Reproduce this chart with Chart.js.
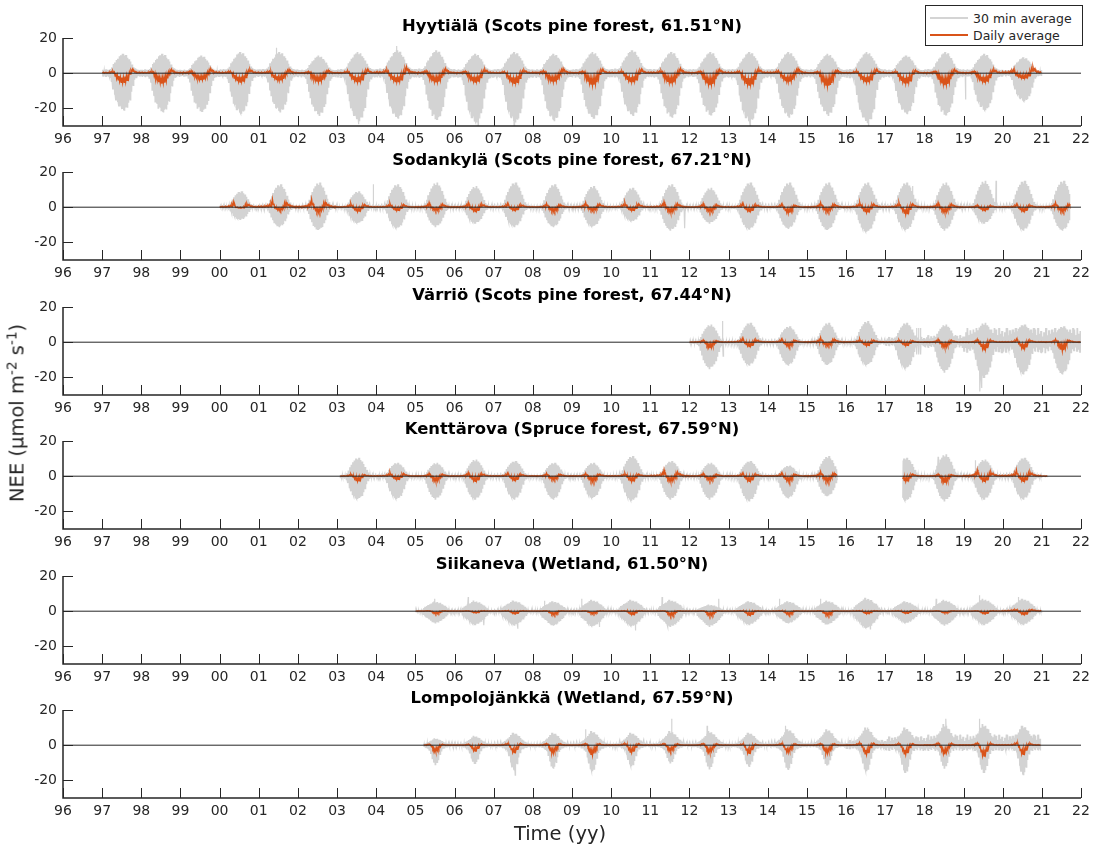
<!DOCTYPE html>
<html>
<head>
<meta charset="utf-8">
<title>NEE at six Finnish flux sites</title>
<script src="https://cdn.jsdelivr.net/npm/chart.js@4.4.1/dist/chart.umd.min.js"></script>
<style>
  html, body { margin: 0; padding: 0; background: #fff; }
  #fig { position: relative; width: 1101px; height: 846px; overflow: hidden; background: #fff;
         font-family: "DejaVu Sans", sans-serif; color: #262626; }
  #fig canvas { position: absolute; left: 0; }
  .anchor { position: absolute; width: 0; height: 0; }
  .anchor > div { position: absolute; left: 0; top: 0; white-space: nowrap; font-size: 19.5px; }
  #ylab > div { transform: translate(-50%, -50%) rotate(-90deg); }
  #xlab > div { transform: translate(-50%, -50%); }
  sup { font-size: 0.7em; vertical-align: 0.5em; line-height: 0; }
  #legend { position: absolute; left: 925px; top: 5px; width: 158px; height: 41px; box-sizing: border-box;
            border: 1px solid #262626; background: #fff; font-size: 12.5px; }
  #legend .row { position: absolute; left: 4px; height: 16px; display: flex; align-items: center; }
  #legend .sw { width: 38px; height: 0; margin-right: 5px; border-top: 2px solid; }
</style>
</head>
<body>
<div id="fig">
  <canvas id="panel0" width="1101" height="150" style="top:0px"></canvas>
  <canvas id="panel1" width="1101" height="150" style="top:134px"></canvas>
  <canvas id="panel2" width="1101" height="150" style="top:269px"></canvas>
  <canvas id="panel3" width="1101" height="150" style="top:403px"></canvas>
  <canvas id="panel4" width="1101" height="150" style="top:538px"></canvas>
  <canvas id="panel5" width="1101" height="150" style="top:672px"></canvas>
  <div id="ylab" class="anchor" style="left:17px;top:413px"><div>NEE (µmol m<sup>-2</sup> s<sup>-1</sup>)</div></div>
  <div id="xlab" class="anchor" style="left:560px;top:833px"><div>Time (yy)</div></div>
  <div id="legend">
    <div class="row" style="top:4px"><span class="sw" style="border-color:#d4d4d4"></span>30 min average</div>
    <div class="row" style="top:21px"><span class="sw" style="border-color:#d95319"></span>Daily average</div>
  </div>
</div>
<script>
// ---- axes ----
const X_MIN = 1996, X_MAX = 2022;
const X_TICK_LABELS = ['96','97','98','99','00','01','02','03','04','05','06','07','08','09',
                       '10','11','12','13','14','15','16','17','18','19','20','21','22'];
const Y_MIN = -30, Y_MAX = 20;
const Y_TICKS = [-20, 0, 20];

// ---- seasonal envelopes: 26 two-week bins per year, fraction of that year's extreme ----
const BINS = 26;
// southern pine forest
const SF_GRAY_MIN = [0.08,0.06,0.09,0.07,0.08,0.13,0.24,0.44,0.58,0.74,0.78,0.9,0.88,0.97,1.00,0.93,0.92,0.80,0.72,0.50,0.33,0.18,0.12,0.09,0.07,0.08];
const SF_GRAY_MAX = [0.18,0.16,0.20,0.17,0.18,0.22,0.30,0.47,0.55,0.68,0.74,0.88,0.93,1.00,0.90,0.94,0.80,0.72,0.60,0.45,0.32,0.25,0.20,0.18,0.16,0.18];
const SF_DAY_UP   = [0.20,0.15,0.20,0.15,0.20,0.30,0.40,0.50,0.30,0.00,-0.20,-0.30,-0.40,-0.45,-0.40,-0.35,-0.25,-0.10,0.30,0.70,0.90,0.60,0.40,0.25,0.20,0.20];
const SF_DAY_LOW  = [0.05,0.00,0.05,0.05,0.05,0.10,0.15,0.10,-0.30,-0.55,-0.70,-0.85,-0.95,-1.00,-0.95,-0.90,-0.75,-0.50,-0.10,0.30,0.40,0.25,0.10,0.10,0.05,0.05];
// northern forests
const NF_GRAY_MIN = [0.05,0.04,0.06,0.05,0.06,0.08,0.15,0.30,0.50,0.66,0.80,0.88,0.95,1.00,0.93,0.90,0.84,0.70,0.55,0.35,0.20,0.12,0.08,0.06,0.05,0.05];
const NF_GRAY_MAX = [0.06,0.05,0.07,0.06,0.07,0.09,0.16,0.30,0.48,0.62,0.76,0.85,0.96,0.90,1.00,0.88,0.80,0.66,0.50,0.34,0.20,0.12,0.08,0.06,0.06,0.05];
const NF_DAY_UP   = [0.10,0.10,0.10,0.10,0.15,0.15,0.20,0.30,0.50,0.90,0.40,0.00,-0.20,-0.30,-0.25,-0.20,0.10,0.50,0.60,0.40,0.30,0.20,0.15,0.10,0.10,0.10];
const NF_DAY_LOW  = [0.00,0.00,0.00,0.00,0.05,0.05,0.05,0.10,0.20,0.30,-0.20,-0.55,-0.85,-1.00,-0.90,-0.70,-0.30,0.10,0.25,0.20,0.10,0.05,0.05,0.00,0.00,0.00];
// southern fen
const SW_GRAY_MIN = [0.06,0.05,0.08,0.08,0.12,0.28,0.42,0.50,0.58,0.66,0.80,0.88,0.95,1.00,0.93,0.90,0.84,0.74,0.66,0.55,0.44,0.30,0.18,0.10,0.06,0.07];
const SW_GRAY_MAX = [0.08,0.06,0.10,0.10,0.16,0.32,0.45,0.52,0.62,0.70,0.76,0.88,1.00,0.86,0.92,0.80,0.84,0.70,0.60,0.55,0.42,0.28,0.16,0.10,0.08,0.09];
const SW_DAY_UP   = [0.20,0.20,0.20,0.20,0.30,0.30,0.40,0.50,0.60,0.50,0.30,0.00,-0.30,-0.40,-0.35,-0.30,-0.10,0.30,0.50,0.60,0.50,0.40,0.30,0.20,0.20,0.20];
const SW_DAY_LOW  = [0.00,0.00,0.00,0.00,0.10,0.10,0.10,0.20,0.20,0.10,-0.20,-0.50,-0.85,-1.00,-0.95,-0.80,-0.50,-0.10,0.20,0.20,0.20,0.10,0.10,0.00,0.00,0.00];
// northern fen
const NW_GRAY_MIN = [0.06,0.05,0.08,0.06,0.07,0.08,0.10,0.13,0.18,0.25,0.45,0.70,0.90,1.00,0.92,0.75,0.50,0.30,0.18,0.14,0.11,0.09,0.07,0.06,0.05,0.07];
const NW_GRAY_MAX = [0.12,0.10,0.14,0.12,0.15,0.20,0.28,0.35,0.45,0.55,0.66,0.82,1.00,0.88,0.92,0.78,0.75,0.58,0.45,0.38,0.28,0.22,0.16,0.12,0.10,0.12];
const NW_DAY_UP   = [0.10,0.10,0.10,0.10,0.10,0.15,0.20,0.30,0.50,0.70,0.40,-0.10,-0.40,-0.50,-0.40,-0.25,0.00,0.40,0.60,0.35,0.20,0.15,0.10,0.10,0.10,0.10];
const NW_DAY_LOW  = [0.00,0.00,0.00,0.00,0.00,0.05,0.05,0.10,0.20,0.30,-0.20,-0.60,-0.95,-1.00,-0.80,-0.55,-0.25,0.10,0.25,0.10,0.05,0.05,0.00,0.00,0.00,0.00];
// out-of-season scatter of the half-hourly fluxes
const SCATTER = [0.90,0.50,1.00,0.60,0.80,0.40,0.70,1.00,0.50,0.85,0.60,0.90,0.70,1.00,0.55,0.80,0.50,0.95,0.70,1.00,0.60,0.85,0.45,0.90,0.65,1.00];

// ---- sites: yearly extremes of NEE (µmol m-2 s-1); spikes are [time, flux] ----
const HYY_TITLE = 'Hyytiälä (Scots pine forest, 61.51°N)';
const HYY_SPANS = [[1997.0, 2021.0]];
const HYY_YEARS = [1997,1998,1999,2000,2001,2002,2003,2004,2005,2006,2007,2008,2009,2010,2011,2012,2013,2014,2015,2016,2017,2018,2019,2020];
const HYY_LO  = [-21,-22,-22,-23,-22,-24,-27,-25.6,-26.6,-28,-28,-27,-25.6,-24,-25,-24,-28,-25,-24,-28,-23,-24,-21,-16];
const HYY_HI  = [11,11,10,12,12,10,12,13,13,11,12,11,12,13,12,12,12,12,11,12,10,12,11,9];
const HYY_DLO = [-5.5,-6,-4,-5,-4.3,-5,-5,-5,-5.3,-5,-5.8,-5,-6.8,-5,-5.8,-6.8,-6.8,-5,-7.4,-5,-5.8,-6.8,-5,-3];
const HYY_DHI = [2.5,2.5,3,2.5,2.5,2,2.5,4,3,2.5,2,3,2.5,2.5,3,2.5,2.5,3,2,2.5,2,2.5,2.5,4];
const HYY_SPIKES = [[2001.45, 14.5], [2003.55, -29], [2004.52, 15.5], [2006.6, -30], [2007.52, -30], [2013.55, -30], [2016.58, -30], [2019.05, -15]];

const SOD_TITLE = 'Sodankylä (Scots pine forest, 67.21°N)';
const SOD_SPANS = [[2000.0, 2021.72]];
const SOD_YEARS = [2000,2001,2002,2003,2004,2005,2006,2007,2008,2009,2010,2011,2012,2013,2014,2015,2016,2017,2018,2019,2020,2021];
const SOD_LO  = [-7,-11,-13,-9,-12,-11,-9,-11,-11,-11,-8,-13,-9,-12.5,-12,-13,-14,-13,-13,-9,-13,-13];
const SOD_HI  = [9,13,14,9,13,14,12,14,13,12,11,13,11,14,14,14,14,14,14,15,15,15];
const SOD_DLO = [-0.5,-2,-3,-2.5,-2,-2,-2.5,-2,-2.5,-2,-2,-3,-2.5,-2.5,-3.5,-2.5,-3,-4,-3,-2,-2.5,-2.5];
const SOD_DHI = [3.5,5,5,2.5,2.5,3,3,2.5,2.5,3,3,3.5,2.5,2.5,2,3,3,3,3,1.5,2,3];
const SOD_SPIKES = [[2003.92, 13], [2011.88, -12], [2017.7, 12], [2019.83, 15]];

const VAR_TITLE = 'Värriö (Scots pine forest, 67.44°N)';
const VAR_SPANS = [[2012.0, 2022.0]];
const VAR_YEARS = [2012,2013,2014,2015,2016,2017,2018,2019,2020,2021];
const VAR_LO  = [-15,-13,-13,-13,-13,-15,-17,-20,-18,-18];
const VAR_HI  = [10,11,9,11,12,11,10,11,10,9];
const VAR_DLO = [-3.4,-2.5,-2.5,-2,-2,-2,-3,-4.4,-3.8,-5];
const VAR_DHI = [1.5,2.5,2,3,2,1.5,2,2,2,2];
const VAR_SCATTER_LO = [0.5,0.5,0.5,0.5,1,2,3,6,6,6];
const VAR_SCATTER_HI = [0.5,0.5,0.5,0.5,1,3,4,8,8,8];
const VAR_SPIKES = [[2012.85, 12], [2012.86, -8], [2017.8, 8], [2017.81, -7], [2017.85, 8], [2017.86, -7], [2017.9, 8], [2017.91, -7],
                    [2019.42, -28], [2019.47, -26]];

const KEN_TITLE = 'Kenttärova (Spruce forest, 67.59°N)';
const KEN_SPANS = [[2003.07, 2015.78], [2017.44, 2021.15]];
const KEN_YEARS = [2003,2004,2005,2006,2007,2008,2009,2010,2011,2012,2013,2014,2015,2017,2018,2019,2020,2021];
const KEN_LO  = [-13,-13,-13,-13,-13,-13,-12.4,-14,-13,-13,-14,-12.4,-11.4,-14,-14,-13,-13,-2];
const KEN_HI  = [10.5,7.6,7.6,9.5,8.6,7.6,7.6,11.4,8.6,7.6,8.6,6,11.4,10.5,12.4,9.5,10.5,2];
const KEN_DLO = [-2.9,-2,-3,-3,-2.5,-2,-3,-3,-3,-2.3,-3,-3,-3,-3,-3.8,-3,-3,-0.5];
const KEN_DHI = [1.5,2.5,2,2.5,2,2,2,2,4,2,2,2,3,2,1.5,4,4,1];
const KEN_SPIKES = [[2018.35, 11], [2019.3, 9]];

const SII_TITLE = 'Siikaneva (Wetland, 61.50°N)';
const SII_SPANS = [[2005.0, 2021.0]];
const SII_YEARS = [2005,2006,2007,2008,2009,2010,2011,2012,2013,2014,2015,2016,2017,2018,2019,2020];
const SII_LO  = [-6.7,-7.6,-8,-8,-8.5,-8.5,-8.6,-8.6,-7.6,-6.7,-7.6,-9.5,-6.7,-8,-7.6,-7.6];
const SII_HI  = [5.7,6,6,5.7,6.5,6.5,6.5,3.8,5.7,5.7,6,7.6,5.7,6.5,7,7];
const SII_DLO = [-1.5,-1,-1.5,-2,-1.5,-2,-2.5,-2.5,-2.3,-2,-2.3,-1.5,-1.3,-1,-1.5,-2];
const SII_DHI = [0.5,0.5,0.5,0.5,0.5,0.5,0.5,0.5,0.5,0.5,0.5,0.5,0.5,0.5,0.5,1.5];
const SII_SPIKES = [[2005.5, 7], [2006.35, 8], [2006.75, -8], [2007.62, -10], [2008.3, 6], [2009.25, 7], [2009.7, -9], [2010.62, -11],
                    [2011.3, 8], [2011.45, -9], [2012.75, 7], [2014.3, 7], [2015.35, 7], [2016.62, -10], [2018.3, 7], [2019.4, 9], [2020.4, 8]];

const LOM_TITLE = 'Lompolojänkkä (Wetland, 67.59°N)';
const LOM_SPANS = [[2005.2, 2020.97]];
const LOM_YEARS = [2005,2006,2007,2008,2009,2010,2011,2012,2013,2014,2015,2016,2017,2018,2019,2020];
const LOM_LO  = [-11,-10.4,-14,-13,-14.8,-12,-10,-13.5,-12,-13.8,-11.5,-14.8,-15.8,-13,-15.4,-16.7];
const LOM_HI  = [4,5.4,7,7,8,7,8,8,7,9,9,10,10,12,12,11];
const LOM_DLO = [-3.8,-3.3,-4.2,-4.6,-5.8,-4.2,-3.3,-4.2,-4.6,-4.2,-4.6,-5.2,-5.2,-5.2,-6.2,-5.2];
const LOM_DHI = [1,1,1.5,1.5,1.5,1.5,1.5,1.5,1,1.5,1.5,2,1.5,2,2,2];
const LOM_SCATTER_LO = [0.5,0.5,0.5,0.5,0.5,0.5,0.5,0.5,0.5,0.5,1,2,3,3,3,3];
const LOM_SCATTER_HI = [1,1,1,1,1,1,1,1,1,1,1.5,3,5,6,6,6];
const LOM_SPIKES = [[2007.55, -17], [2009.35, 9], [2011.55, 15], [2012.45, 11], [2014.45, 11], [2016.55, 10], [2018.55, 15], [2019.4, 15]];

const SOUTH_FOREST = { grayMin: SF_GRAY_MIN, grayMax: SF_GRAY_MAX, dayUp: SF_DAY_UP, dayLow: SF_DAY_LOW };
const NORTH_FOREST = { grayMin: NF_GRAY_MIN, grayMax: NF_GRAY_MAX, dayUp: NF_DAY_UP, dayLow: NF_DAY_LOW };
const SOUTH_FEN    = { grayMin: SW_GRAY_MIN, grayMax: SW_GRAY_MAX, dayUp: SW_DAY_UP, dayLow: SW_DAY_LOW };
const NORTH_FEN    = { grayMin: NW_GRAY_MIN, grayMax: NW_GRAY_MAX, dayUp: NW_DAY_UP, dayLow: NW_DAY_LOW };

const SITES = [
  { title: HYY_TITLE, spans: HYY_SPANS, years: HYY_YEARS, lo: HYY_LO, hi: HYY_HI, dlo: HYY_DLO, dhi: HYY_DHI, season: SOUTH_FOREST, spikes: HYY_SPIKES },
  { title: SOD_TITLE, spans: SOD_SPANS, years: SOD_YEARS, lo: SOD_LO, hi: SOD_HI, dlo: SOD_DLO, dhi: SOD_DHI, season: NORTH_FOREST, spikes: SOD_SPIKES },
  { title: VAR_TITLE, spans: VAR_SPANS, years: VAR_YEARS, lo: VAR_LO, hi: VAR_HI, dlo: VAR_DLO, dhi: VAR_DHI, season: NORTH_FOREST, spikes: VAR_SPIKES,
    scatterLo: VAR_SCATTER_LO, scatterHi: VAR_SCATTER_HI },
  { title: KEN_TITLE, spans: KEN_SPANS, years: KEN_YEARS, lo: KEN_LO, hi: KEN_HI, dlo: KEN_DLO, dhi: KEN_DHI, season: NORTH_FOREST, spikes: KEN_SPIKES },
  { title: SII_TITLE, spans: SII_SPANS, years: SII_YEARS, lo: SII_LO, hi: SII_HI, dlo: SII_DLO, dhi: SII_DHI, season: SOUTH_FEN, spikes: SII_SPIKES },
  { title: LOM_TITLE, spans: LOM_SPANS, years: LOM_YEARS, lo: LOM_LO, hi: LOM_HI, dlo: LOM_DLO, dhi: LOM_DHI, season: NORTH_FEN, spikes: LOM_SPIKES,
    scatterLo: LOM_SCATTER_LO, scatterHi: LOM_SCATTER_HI }
];

// The half-hourly series swings between each bin's low and high flux (twice per bin)
// plus the isolated spikes; the daily series swings between the bin's upper and lower means.
function buildSeries(site) {
  const gray = [], daily = [];
  const s = site.season;
  site.spans.forEach(([start, end]) => {
    const g = [];
    site.years.forEach((yr, i) => {
      if (yr + 1 <= start || yr >= end) return;
      const sLo = site.scatterLo ? site.scatterLo[i] : 0;
      const sHi = site.scatterHi ? site.scatterHi[i] : 0;
      const day = f => f >= 0 ? f * site.dhi[i] : f * -site.dlo[i];
      for (let k = 0; k < BINS; k++) {
        const lo = Math.min(site.lo[i] * s.grayMin[k], -sLo * SCATTER[k]);
        const hi = Math.max(site.hi[i] * s.grayMax[k], sHi * SCATTER[(k + 5) % BINS]);
        [[0.125, lo], [0.375, hi], [0.625, lo], [0.875, hi]].forEach(([off, v]) => {
          const t = yr + (k + off) / BINS;
          if (t >= start && t <= end) g.push({ x: t, y: v });
        });
        const d0 = yr + (k + 0.1) / BINS, d1 = yr + (k + 0.6) / BINS;
        if (d0 >= start && d0 <= end) daily.push({ x: d0, y: day(s.dayUp[k]) });
        if (d1 >= start && d1 <= end) daily.push({ x: d1, y: day(s.dayLow[k]) });
      }
    });
    (site.spikes || []).forEach(([t, v]) => { if (t >= start && t <= end) g.push({ x: t, y: v }); });
    g.sort((a, b) => a.x - b.x);
    gray.push(...g, { x: end, y: null });
    daily.push({ x: end, y: null });
  });
  return { gray, daily };
}

const AXIS_COLOR = '#262626';
const TICK_LEN = 10;

// left and bottom spines with inward ticks
const spinesPlugin = {
  id: 'spines',
  afterDatasetsDraw(chart) {
    const { ctx, chartArea: a, scales: { x, y } } = chart;
    ctx.save();
    ctx.strokeStyle = AXIS_COLOR;
    ctx.lineWidth = 1;
    ctx.beginPath();
    X_TICK_LABELS.forEach((_, i) => {
      const px = Math.round(x.getPixelForValue(X_MIN + i)) + 0.5;
      ctx.moveTo(px, a.bottom);
      ctx.lineTo(px, a.bottom - TICK_LEN);
    });
    Y_TICKS.forEach(v => {
      const py = Math.round(y.getPixelForValue(v)) + 0.5;
      ctx.moveTo(a.left, py);
      ctx.lineTo(a.left + TICK_LEN, py);
    });
    ctx.stroke();
    ctx.lineWidth = 1.5;
    ctx.beginPath();
    ctx.moveTo(a.left, a.top);
    ctx.lineTo(a.left, a.bottom);
    ctx.lineTo(a.right, a.bottom);
    ctx.stroke();
    ctx.restore();
  }
};

SITES.forEach((site, idx) => {
  const { gray, daily } = buildSeries(site);
  new Chart(document.getElementById('panel' + idx), {
    type: 'line',
    data: {
      datasets: [
        { label: 'zero', data: [{ x: X_MIN, y: 0 }, { x: X_MAX, y: 0 }], borderColor: AXIS_COLOR, borderWidth: 1, order: 0 },
        { label: 'Daily average', data: daily, borderColor: '#d95319', borderWidth: 1.3, order: 1 },
        { label: '30 min average', data: gray, borderColor: '#d3d3d3', borderWidth: 1.2, order: 2 }
      ]
    },
    options: {
      responsive: false,
      animation: false,
      events: [],
      spanGaps: false,
      elements: { point: { radius: 0 }, line: { tension: 0 } },
      layout: { padding: { left: 0, right: 20, top: 0, bottom: 0 } },
      plugins: {
        legend: { display: false },
        tooltip: { enabled: false },
        title: {
          display: true, text: site.title, fullSize: false, color: '#000',
          font: { family: 'DejaVu Sans', size: 16.4, weight: 'bold', lineHeight: 1.2 },
          padding: { top: 17.2, bottom: 1.1 }
        }
      },
      scales: {
        x: {
          type: 'linear', min: X_MIN, max: X_MAX,
          grid: { display: false, drawTicks: false }, border: { display: false },
          afterFit: sc => { sc.height = 24; },
          ticks: {
            stepSize: 1, autoSkip: false, maxRotation: 0, padding: 5, color: AXIS_COLOR,
            font: { family: 'DejaVu Sans', size: 14 },
            callback: v => X_TICK_LABELS[Math.round(v - X_MIN)]
          }
        },
        y: {
          min: Y_MIN, max: Y_MAX,
          grid: { display: false, drawTicks: false }, border: { display: false },
          afterFit: sc => { sc.width = 63; },
          afterBuildTicks: sc => { sc.ticks = Y_TICKS.map(v => ({ value: v })); },
          ticks: {
            padding: 6, color: AXIS_COLOR,
            font: { family: 'DejaVu Sans', size: 14 },
            callback: v => String(v)
          }
        }
      }
    },
    plugins: [spinesPlugin]
  });
});
</script>
</body>
</html>
